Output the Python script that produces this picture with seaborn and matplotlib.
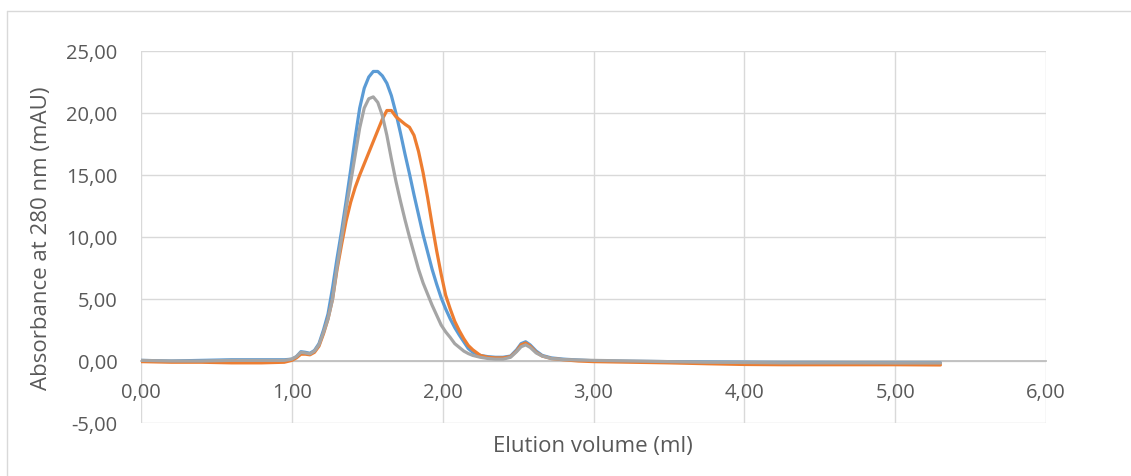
import matplotlib
matplotlib.use("Agg")
import matplotlib.pyplot as plt
from matplotlib.ticker import FuncFormatter
from matplotlib.lines import Line2D
import seaborn as sns
import pandas as pd

# ---- data ----
volume_ml = [0.00, 0.20, 0.40, 0.60, 0.80, 0.95, 1.00, 1.03, 1.06, 1.09, 1.12, 1.15,
             1.18, 1.21, 1.24, 1.27, 1.30, 1.33, 1.36, 1.39, 1.42, 1.45, 1.48, 1.51,
             1.54, 1.57, 1.60, 1.63, 1.66, 1.69, 1.72, 1.75, 1.78, 1.81, 1.84, 1.87,
             1.90, 1.93, 1.96, 1.99, 2.02, 2.05, 2.08, 2.11, 2.14, 2.17, 2.20, 2.25,
             2.30, 2.35, 2.40, 2.45, 2.49, 2.52, 2.55, 2.58, 2.62, 2.66, 2.72, 2.80,
             2.90, 3.00, 3.25, 3.50, 3.75, 4.00, 4.25, 4.50, 4.75, 5.00, 5.30]

blue = [0.05, 0.00, 0.05, 0.10, 0.10, 0.10, 0.15, 0.35, 0.75, 0.70, 0.62, 0.85,
        1.40, 2.50, 3.80, 5.90, 8.30, 10.5, 12.9, 15.4, 18.0, 20.4, 22.0, 22.9,
        23.35, 23.35, 23.0, 22.4, 21.4, 20.0, 18.4, 16.7, 15.1, 13.4, 11.8, 10.2,
        8.8, 7.4, 6.2, 5.1, 4.2, 3.4, 2.7, 2.1, 1.55, 1.0, 0.70, 0.45,
        0.35, 0.30, 0.30, 0.40, 0.90, 1.40, 1.55, 1.30, 0.80, 0.45, 0.25, 0.15,
        0.08, 0.02, -0.02, -0.05, -0.08, -0.10, -0.12, -0.12, -0.13, -0.15, -0.15]

orange = [-0.05, -0.10, -0.10, -0.15, -0.15, -0.10, 0.05, 0.25, 0.55, 0.55, 0.50, 0.70,
          1.20, 2.20, 3.40, 5.00, 7.40, 9.40, 11.3, 12.8, 14.0, 15.0, 15.9, 16.8,
          17.7, 18.6, 19.5, 20.2, 20.2, 19.7, 19.4, 19.1, 18.85, 18.2, 16.9, 15.2,
          13.2, 11.0, 8.9, 7.0, 5.3, 4.2, 3.2, 2.45, 1.8, 1.25, 0.90, 0.45,
          0.30, 0.25, 0.25, 0.35, 0.80, 1.30, 1.45, 1.20, 0.70, 0.40, 0.20, 0.10,
          0.00, -0.05, -0.10, -0.15, -0.22, -0.28, -0.30, -0.30, -0.30, -0.30, -0.32]

gray = [0.05, 0.00, 0.00, 0.05, 0.05, 0.05, 0.15, 0.35, 0.70, 0.65, 0.58, 0.80,
        1.30, 2.30, 3.40, 5.00, 7.60, 9.90, 12.3, 14.4, 16.6, 18.8, 20.4, 21.15,
        21.3, 20.85, 19.8, 18.2, 16.3, 14.5, 12.9, 11.4, 10.0, 8.7, 7.4, 6.3,
        5.4, 4.5, 3.7, 2.9, 2.35, 1.9, 1.4, 1.1, 0.80, 0.60, 0.45, 0.30,
        0.20, 0.15, 0.15, 0.30, 0.75, 1.15, 1.30, 1.10, 0.65, 0.40, 0.20, 0.12,
        0.08, 0.05, 0.00, -0.05, -0.10, -0.12, -0.15, -0.15, -0.15, -0.16, -0.16]

series_names = ["Run 1", "Run 2", "Run 3"]
series_colors = ["#5B9BD5", "#ED7D31", "#A5A5A5"]

x_ticks = [0, 1, 2, 3, 4, 5, 6]
y_ticks = [-5, 0, 5, 10, 15, 20, 25]
x_title = "Elution volume (ml)"
y_title = "Absorbance at 280 nm (mAU)"

# ---- build long-form data ----
frames = []
for name, vals in zip(series_names, [blue, orange, gray]):
    frames.append(pd.DataFrame({"volume": volume_ml, "abs": vals, "run": name}))
df = pd.concat(frames, ignore_index=True)

sns.set_theme(style="white")
plt.rcParams["font.family"] = ["Open Sans", "DejaVu Sans"]

fig = plt.figure(figsize=(11.31, 4.77), dpi=100)
ax = fig.add_axes([141 / 1131, 53 / 477, (1046 - 141) / 1131, (424 - 52) / 477])

sns.lineplot(data=df, x="volume", y="abs", hue="run", hue_order=series_names,
             palette=series_colors, estimator=None, sort=False, linewidth=2.3,
             legend=False, ax=ax, zorder=3)

ax.set_xlim(0, 6)
ax.set_ylim(-5, 25)
ax.set_xticks(x_ticks)
ax.set_yticks(y_ticks)
fmt = FuncFormatter(lambda v, p: f"{v:.2f}".replace(".", ","))
ax.xaxis.set_major_formatter(fmt)
ax.yaxis.set_major_formatter(fmt)

ax.grid(True, color="#d9d9d9", linewidth=1.0, zorder=0)
ax.set_axisbelow(True)
for s in ["top", "right", "left"]:
    ax.spines[s].set_visible(False)
ax.spines["bottom"].set_position(("data", 0))
ax.spines["bottom"].set_color("#bfbfbf")
ax.spines["bottom"].set_linewidth(1.3)
ax.spines["bottom"].set_zorder(2)

ax.tick_params(axis="x", length=0, pad=15, labelsize=14.5, labelcolor="#595959")
ax.tick_params(axis="y", length=0, pad=17, labelsize=14.5, labelcolor="#595959")

ax.set_xlabel("")
ax.set_ylabel("")
fig.text(593 / 1131, 1 - 447 / 477, x_title, ha="center", va="center",
         fontsize=16, color="#595959")
fig.text(42 / 1131, 1 - 238 / 477, y_title, ha="center", va="center",
         rotation=90, fontsize=16, color="#595959")

# chart-area border (cropped at right and bottom in the reference)
fig.add_artist(Line2D([7 / 1131, 1.0], [1 - 12 / 477, 1 - 12 / 477],
                      transform=fig.transFigure, color="#d9d9d9", linewidth=1.0))
fig.add_artist(Line2D([7 / 1131, 7 / 1131], [0.0, 1 - 12 / 477],
                      transform=fig.transFigure, color="#d9d9d9", linewidth=1.0))

fig.savefig("out.png", dpi=100)
